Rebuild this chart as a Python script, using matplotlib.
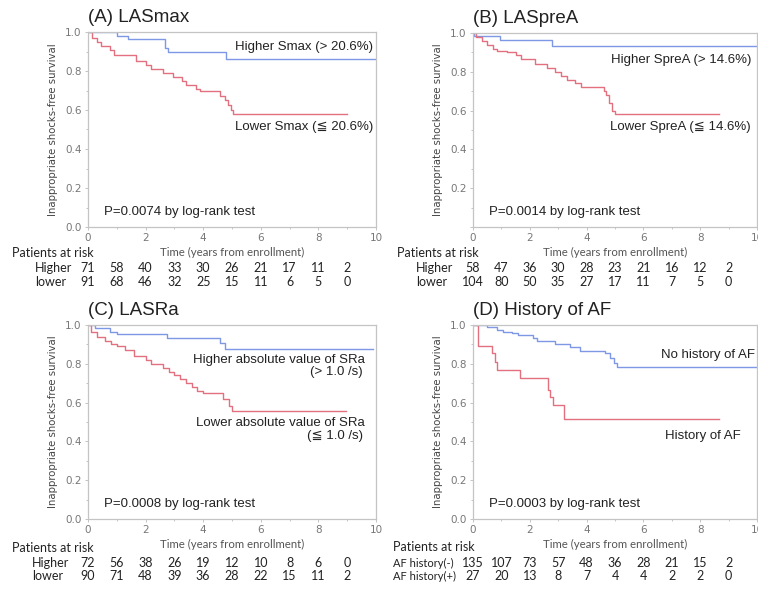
import matplotlib
matplotlib.use("Agg")
import matplotlib.pyplot as plt
from matplotlib.ticker import MultipleLocator

# step curves (time in years, survival)
a_hi_t = [0, 1.0, 1.4, 2.67, 2.79, 4.8, 9.95]
a_hi_s = [1.0, 0.982, 0.964, 0.92, 0.896, 0.863, 0.863]
a_lo_t = [0, 0.15, 0.3, 0.45, 0.75, 0.9, 1.65, 2.0, 2.2, 2.6, 2.95, 3.25, 3.4,
          3.75, 3.9, 4.6, 4.75, 4.87, 4.97, 5.04, 9.0]
a_lo_s = [1.0, 0.97, 0.95, 0.93, 0.91, 0.88, 0.85, 0.83, 0.81, 0.79, 0.77, 0.75,
          0.73, 0.71, 0.695, 0.67, 0.65, 0.625, 0.6, 0.58, 0.58]

b_hi_t = [0, 0.05, 0.95, 2.78, 9.95]
b_hi_s = [1.0, 0.983, 0.966, 0.932, 0.932]
b_lo_t = [0, 0.1, 0.3, 0.5, 0.7, 0.85, 1.2, 1.5, 1.7, 2.2, 2.6, 2.9, 3.1, 3.3,
          3.6, 3.8, 4.6, 4.7, 4.8, 4.9, 5.0, 8.65]
b_lo_s = [1.0, 0.98, 0.96, 0.94, 0.92, 0.905, 0.9, 0.885, 0.865, 0.84, 0.82, 0.8,
          0.78, 0.76, 0.74, 0.72, 0.70, 0.68, 0.64, 0.6, 0.584, 0.584]

c_hi_t = [0, 0.24, 0.76, 1.0, 2.73, 4.58, 4.76, 9.9]
c_hi_s = [1.0, 0.983, 0.966, 0.954, 0.931, 0.905, 0.874, 0.874]
c_lo_t = [0, 0.1, 0.3, 0.6, 0.8, 1.0, 1.3, 1.6, 2.0, 2.2, 2.6, 2.8, 3.0, 3.2,
          3.4, 3.6, 3.8, 4.0, 4.7, 4.9, 5.0, 8.95]
c_lo_s = [1.0, 0.965, 0.94, 0.92, 0.9, 0.89, 0.87, 0.84, 0.82, 0.8, 0.78, 0.76,
          0.74, 0.72, 0.7, 0.68, 0.66, 0.65, 0.62, 0.58, 0.557, 0.557]

d_hi_t = [0, 0.48, 0.84, 1.07, 1.37, 1.6, 2.13, 2.25, 2.9, 3.43, 3.78, 4.66,
          4.84, 4.96, 5.08, 9.95]
d_hi_s = [1.0, 0.991, 0.974, 0.964, 0.957, 0.948, 0.931, 0.919, 0.902, 0.885,
          0.868, 0.854, 0.828, 0.806, 0.783, 0.783]
d_lo_t = [0, 0.19, 0.66, 0.78, 0.84, 1.64, 2.63, 2.72, 2.8, 3.2, 8.65]
d_lo_s = [1.0, 0.89, 0.854, 0.81, 0.77, 0.728, 0.665, 0.63, 0.589, 0.515, 0.515]

# patients at risk, years 0..9
risk_years = [0, 1, 2, 3, 4, 5, 6, 7, 8, 9]
a_risk_hi = [71, 58, 40, 33, 30, 26, 21, 17, 11, 2]
a_risk_lo = [91, 68, 46, 32, 25, 15, 11, 6, 5, 0]
b_risk_hi = [58, 47, 36, 30, 28, 23, 21, 16, 12, 2]
b_risk_lo = [104, 80, 50, 35, 27, 17, 11, 7, 5, 0]
c_risk_hi = [72, 56, 38, 26, 19, 12, 10, 8, 6, 0]
c_risk_lo = [90, 71, 48, 39, 36, 28, 22, 15, 11, 2]
d_risk_hi = [135, 107, 73, 57, 48, 36, 28, 21, 15, 2]
d_risk_lo = [27, 20, 13, 8, 7, 4, 4, 2, 2, 0]

BLUE = "#7f98e6"
RED = "#e2707f"
GRAY = "#c4c4c4"
TXT = "#222222"
SANS = ["Liberation Sans", "DejaVu Sans"]
CAL = ["Lato", "DejaVu Sans"]

W, H = 758, 589
fig = plt.figure(figsize=(W / 100, H / 100), dpi=100)


def px(x, y):
    # pixel position (top-left origin) -> figure fraction
    return x / W, 1 - y / H


def panel(left, top, right, bottom, title, hi_t, hi_s, lo_t, lo_s, pval,
          show_zero=True):
    ax = fig.add_axes([left / W, 1 - bottom / H, (right - left) / W, (bottom - top) / H])
    ax.step(hi_t, hi_s, where="post", color=BLUE, lw=1.0)
    ax.step(lo_t, lo_s, where="post", color=RED, lw=1.0)
    ax.set_xlim(0, 10)
    ax.set_ylim(0, 1.0)
    for s in ax.spines.values():
        s.set_color(GRAY)
        s.set_linewidth(0.9)
    ax.xaxis.set_major_locator(MultipleLocator(2))
    ax.xaxis.set_minor_locator(MultipleLocator(1))
    ax.yaxis.set_major_locator(MultipleLocator(0.2))
    ax.yaxis.set_minor_locator(MultipleLocator(0.1))
    ax.tick_params(which="both", colors=GRAY, labelcolor="#777777", labelsize=7.5,
                   direction="out", length=2.5, width=0.7, pad=2)
    ax.tick_params(which="minor", length=1.5)
    ax.set_yticks([0, 0.2, 0.4, 0.6, 0.8, 1.0])
    ylabels = ["0.0", "0.2", "0.4", "0.6", "0.8", "1.0"]
    if not show_zero:
        ylabels[0] = ""
    ax.set_yticklabels(ylabels)
    ax.set_xticks([0, 2, 4, 6, 8, 10])
    ax.set_xticklabels(["0", "2", "4", "6", "8", "10"])
    ax.set_ylabel("Inappropriate shocks-free survival", fontsize=7.3,
                  color="#444444", labelpad=5)
    ax.set_xlabel("Time (years from enrollment)", fontsize=8.2, color="#555555",
                  family=CAL, labelpad=3)
    ax.text(0.055, 0.06, pval, transform=ax.transAxes, fontsize=9.5,
            color=TXT, family=SANS)
    fig.text(*px(left, top - 10), title, fontsize=13.5, color=TXT,
             family=SANS, va="baseline")
    return ax


def risk(xl, yl, ax, years, hi, lo, name_hi, name_lo, name_x, y1, y2, name_size=9):
    fig.text(*px(xl, yl), "Patients at risk", fontsize=9, family=CAL,
             color=TXT, va="center")
    fig.text(*px(name_x, y1), name_hi, fontsize=name_size, family=CAL, color=TXT,
             va="center")
    fig.text(*px(name_x, y2), name_lo, fontsize=name_size, family=CAL, color=TXT,
             va="center")
    for yr, a, b in zip(years, hi, lo):
        x0 = ax.transData.transform((yr, 0))[0]
        fig.text(x0 / W, 1 - y1 / H, str(a), fontsize=9, family=CAL,
                 color=TXT, ha="center", va="center")
        fig.text(x0 / W, 1 - y2 / H, str(b), fontsize=9, family=CAL,
                 color=TXT, ha="center", va="center")


axA = panel(88, 32, 376, 227, "(A) LASmax", a_hi_t, a_hi_s, a_lo_t, a_lo_s,
            "P=0.0074 by log-rank test")
fig.text(*px(373, 47), "Higher Smax (> 20.6%)", fontsize=9.5, family=SANS,
         color=TXT, ha="right", va="center")
fig.text(*px(373, 127), "Lower Smax (\u2266 20.6%)", fontsize=9.5, family=SANS,
         color=TXT, ha="right", va="center")
risk(12, 253, axA, risk_years, a_risk_hi, a_risk_lo, "Higher", "lower", 35, 268, 282)

axB = panel(473, 33, 757, 227, "(B) LASpreA", b_hi_t, b_hi_s, b_lo_t, b_lo_s,
            "P=0.0014 by log-rank test", show_zero=False)
fig.text(*px(751, 60), "Higher SpreA (> 14.6%)", fontsize=9.5, family=SANS,
         color=TXT, ha="right", va="center")
fig.text(*px(751, 127), "Lower SpreA (\u2266 14.6%)", fontsize=9.5, family=SANS,
         color=TXT, ha="right", va="center")
risk(397, 253, axB, risk_years, b_risk_hi, b_risk_lo, "Higher", "lower", 416, 268, 282)

axC = panel(88, 325, 376, 519, "(C) LASRa", c_hi_t, c_hi_s, c_lo_t, c_lo_s,
            "P=0.0008 by log-rank test")
fig.text(*px(365, 360), "Higher absolute value of SRa", fontsize=9.5, family=SANS,
         color=TXT, ha="right", va="center")
fig.text(*px(363, 372), "(> 1.0 /s)", fontsize=9.5, family=SANS,
         color=TXT, ha="right", va="center")
fig.text(*px(365, 423), "Lower absolute value of SRa", fontsize=9.5, family=SANS,
         color=TXT, ha="right", va="center")
fig.text(*px(363, 436), "(\u2266 1.0 /s)", fontsize=9.5, family=SANS,
         color=TXT, ha="right", va="center")
risk(12, 548, axC, risk_years, c_risk_hi, c_risk_lo, "Higher", "lower", 32, 563, 576)

axD = panel(473, 325, 757, 519, "(D) History of AF", d_hi_t, d_hi_s, d_lo_t, d_lo_s,
            "P=0.0003 by log-rank test")
fig.text(*px(755, 355), "No history of AF", fontsize=9.5, family=SANS,
         color=TXT, ha="right", va="center")
fig.text(*px(741, 436), "History of AF", fontsize=9.5, family=SANS,
         color=TXT, ha="right", va="center")
risk(393, 547, axD, risk_years, d_risk_hi, d_risk_lo, "AF history(-)",
     "AF history(+)", 393, 563, 576, name_size=8)

fig.savefig("out.png", dpi=100)
